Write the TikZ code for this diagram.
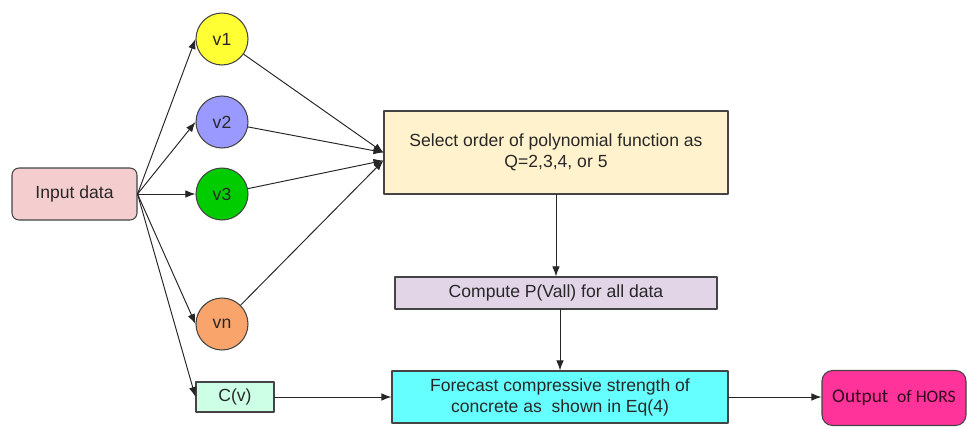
\documentclass[tikz,border=0pt]{standalone}
\usepackage{fontspec}
\setmainfont{Liberation Sans}
\newfontfamily\outfont{Carlito}
\usetikzlibrary{arrows.meta}
\definecolor{inputpink}{RGB}{244,206,206}
\definecolor{vyellow}{RGB}{255,255,51}
\definecolor{vblue}{RGB}{153,153,255}
\definecolor{vgreen}{RGB}{0,204,0}
\definecolor{vorange}{RGB}{248,164,106}
\definecolor{cvmint}{RGB}{204,255,230}
\definecolor{selectfill}{RGB}{255,242,204}
\definecolor{computefill}{RGB}{225,213,231}
\definecolor{forecastcyan}{RGB}{102,255,255}
\definecolor{outputpink}{RGB}{255,51,153}
\definecolor{edgegray}{RGB}{68,68,68}
\definecolor{textgray}{RGB}{40,40,40}

\begin{document}
\begin{tikzpicture}[font=\normalsize, >=Latex, line cap=round, line join=round,
  box/.style={draw=edgegray, line width=0.6pt, align=center, inner sep=0pt, text=textgray},
  varnode/.style={circle, draw=edgegray, line width=0.6pt, minimum size=1.04cm, inner sep=0pt, text=textgray},
  flow/.style={-{Latex[length=2mm,width=1.5mm]}, line width=0.55pt, draw=black!85}]

\useasboundingbox (0,0) rectangle (19.34,8.56);

% ---------- input and variables ----------
\node[box, rounded corners=4pt, fill=inputpink, minimum width=2.50cm, minimum height=1.04cm]
  (input) at (1.49,4.68) {Input data};

\node[varnode, fill=vyellow] (v1) at (4.44,7.78) {v1};
\node[varnode, fill=vblue]   (v2) at (4.44,6.12) {v2};
\node[varnode, fill=vgreen]  (v3) at (4.44,4.68) {v3};
\node[varnode, fill=vorange] (vn) at (4.44,2.08) {vn};

\node[box, fill=cvmint, minimum width=1.56cm, minimum height=0.60cm] (cv) at (4.70,0.62) {C(v)};

% ---------- processing steps ----------
\node[box, fill=selectfill, minimum width=6.88cm, minimum height=1.66cm]
  (select) at (11.12,5.51) {Select order of polynomial function as\\Q=2,3,4, or 5};
\node[box, fill=computefill, minimum width=6.44cm, minimum height=0.64cm]
  (compute) at (11.12,2.70) {Compute P(Vall) for all data};
\node[box, fill=forecastcyan, minimum width=6.72cm, minimum height=1.04cm]
  (forecast) at (11.20,0.62) {Forecast compressive strength of\\concrete as\ \ shown in Eq(4)};
\node[box, rounded corners=6pt, fill=outputpink, minimum width=2.88cm, minimum height=1.10cm,
  font=\outfont\fontsize{11}{13}\selectfont, text=black!80!outputpink]
  (output) at (17.88,0.60) {Output\ \ {\fontsize{10}{12}\selectfont of HORS}};

\coordinate (selin) at ([yshift=-0.16cm]select.west);

% ---------- connectors ----------
\foreach \v in {v1,v2,v3,vn}
  \draw[flow] (input.east) -- (\v.west);
\draw[flow] (input.east) -- (cv.west);

\draw[flow] (v1) -- (select.west);
\draw[flow] (v2) -- (select.west);
\draw[flow] (v3) -- (selin);
\draw[flow] (vn) -- (selin);

\draw[flow] (select.south) -- (compute.north);
\draw[flow] (forecast.north |- compute.south) -- (forecast.north);
\draw[flow] (cv.east) -- (forecast.west);
\draw[flow] (forecast.east) -- (forecast.east -| output.west);

\end{tikzpicture}
\end{document}
